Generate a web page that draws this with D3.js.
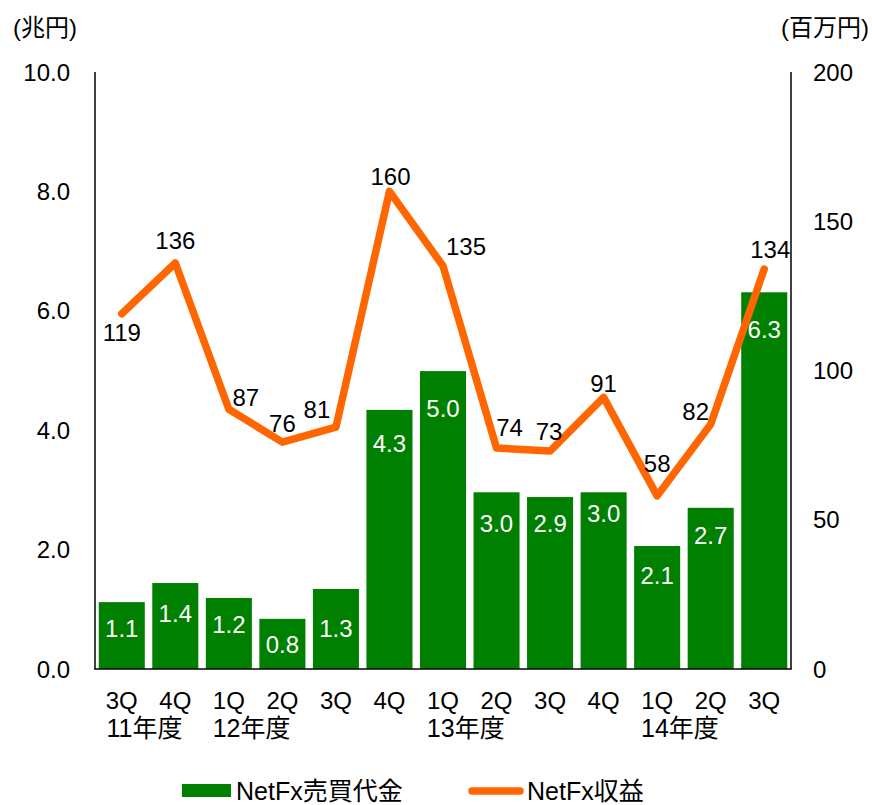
<!DOCTYPE html>
<html><head><meta charset="utf-8">
<script src="https://cdn.jsdelivr.net/npm/d3@7"></script>
<style>
body{margin:0;background:#fff;}
text{font-family:"Liberation Sans",Arial,"Noto Sans CJK JP",sans-serif;}
</style></head>
<body><svg id="c" width="872" height="805"></svg>
<script>
const categories = ["3Q","4Q","1Q","2Q","3Q","4Q","1Q","2Q","3Q","4Q","1Q","2Q","3Q"];
const yearLabels = [{i:0,label:"11年度"},{i:2,label:"12年度"},{i:6,label:"13年度"},{i:10,label:"14年度"}];
const volume = [1.12,1.44,1.19,0.84,1.34,4.34,4.99,2.96,2.88,2.96,2.06,2.70,6.31];
const revenue = [119,136,87,76,81,160,135,74,73,91,58,82,134];
const leftTicks = [0,2,4,6,8,10];
const rightTicks = [0,50,100,150,200];
// styling: label offsets
const barLabelDy = [35,39,35,34,48,42,46,40,35,30,38,36,46];
const revLabelOffsets = [[0,27],[0,-14],[17,-3],[0,-10],[-19,-9],[1,-6],[23,-11],[13,-12],[-1,-11],[0,-5],[0,-24],[-15,-4],[6,-11]];

const svg = d3.select("#c");
const L = 95, R = 791, T = 72, B = 669;
const FS = 24;
const x = d3.scaleBand().domain(d3.range(categories.length)).range([L,R]).paddingInner(0.14).paddingOuter(0.07);
const yL = d3.scaleLinear().domain([0,10]).range([B,T]);
const yR = d3.scaleLinear().domain([0,200]).range([B,T]);
const green = "#008000", orange = "#FF6600";
const cx = i => x(i)+x.bandwidth()/2;

// bars
svg.append("g").selectAll("rect").data(volume).join("rect")
  .attr("x",(d,i)=>x(i)).attr("width",x.bandwidth())
  .attr("y",d=>yL(d)).attr("height",d=>B-yL(d)).attr("fill",green);
svg.append("g").selectAll("text").data(volume).join("text")
  .attr("x",(d,i)=>cx(i)).attr("y",(d,i)=>yL(d)+barLabelDy[i])
  .attr("text-anchor","middle").attr("fill","#fff").attr("font-size",FS)
  .text(d=>d.toFixed(1));

// axes lines
const ax = svg.append("g").attr("stroke","#000").attr("stroke-width",1.5);
ax.append("line").attr("x1",L).attr("x2",L).attr("y1",T).attr("y2",B);
ax.append("line").attr("x1",R).attr("x2",R).attr("y1",T).attr("y2",B);
ax.append("line").attr("x1",L-0.75).attr("x2",R+0.75).attr("y1",B).attr("y2",B);

// tick labels
svg.append("g").selectAll("text").data(leftTicks).join("text")
  .attr("x",70).attr("y",d=>yL(d)+8.5).attr("text-anchor","end").attr("font-size",FS).attr("fill","#000")
  .text(d=>d.toFixed(1));
svg.append("g").selectAll("text").data(rightTicks).join("text")
  .attr("x",813).attr("y",d=>yR(d)+8.5).attr("text-anchor","start").attr("font-size",FS).attr("fill","#000")
  .text(d=>d);

// unit labels
svg.append("text").attr("x",13).attr("y",36).attr("font-size",FS).text("(兆円)");
svg.append("text").attr("x",869).attr("y",36).attr("text-anchor","end").attr("font-size",FS).text("(百万円)");

// x labels
svg.append("g").selectAll("text").data(categories).join("text")
  .attr("x",(d,i)=>cx(i)).attr("y",709).attr("text-anchor","middle").attr("font-size",FS)
  .text(d=>d);
svg.append("g").selectAll("text").data(yearLabels).join("text")
  .attr("x",d=>(cx(d.i)+cx(d.i+1))/2-4).attr("y",737).attr("text-anchor","middle").attr("font-size",25)
  .text(d=>d.label);

// line
const line = d3.line().x((d,i)=>cx(i)).y(d=>yR(d));
svg.append("path").datum(revenue).attr("d",line).attr("fill","none").attr("stroke",orange)
  .attr("stroke-width",7.5).attr("stroke-linecap","round").attr("stroke-linejoin","round");
svg.append("g").selectAll("text").data(revenue).join("text")
  .attr("x",(d,i)=>cx(i)+revLabelOffsets[i][0])
  .attr("y",(d,i)=>yR(d)+revLabelOffsets[i][1])
  .attr("text-anchor","middle").attr("font-size",FS).attr("fill","#000")
  .text(d=>d);

// legend
svg.append("rect").attr("x",182).attr("y",784).attr("width",49).attr("height",13).attr("fill",green);
svg.append("text").attr("x",236).attr("y",800).attr("font-size",25).text("NetFx売買代金");
svg.append("line").attr("x1",472).attr("x2",520).attr("y1",791).attr("y2",791).attr("stroke",orange).attr("stroke-width",7.5).attr("stroke-linecap","round");
svg.append("text").attr("x",527).attr("y",800).attr("font-size",25).text("NetFx収益");
</script></body></html>
